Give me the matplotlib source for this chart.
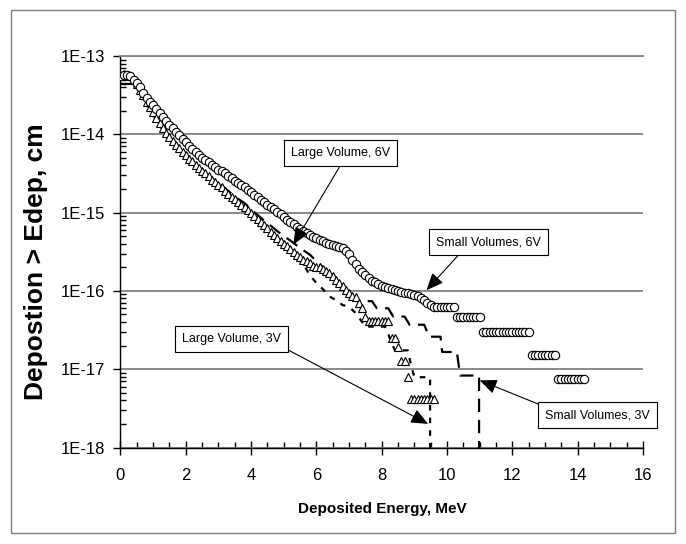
import numpy as np
import matplotlib
matplotlib.use("Agg")
import matplotlib.pyplot as plt
from matplotlib.patches import Rectangle
from matplotlib.ticker import FixedLocator, MultipleLocator, LogLocator, NullFormatter

plt.rcParams['font.family'] = ['Liberation Sans', 'DejaVu Sans']

# Small Volumes, 6V (circles) - sampled every 0.1 MeV
e_small6 = np.arange(143) * 0.1
small6 = [5.6e-14, 5.8e-14, 5.8e-14, 5.5e-14, 5.0e-14, 4.5e-14, 4.0e-14, 3.4e-14, 2.95e-14, 2.6e-14,
          2.35e-14, 2.1e-14, 1.86e-14, 1.66e-14, 1.48e-14, 1.32e-14, 1.2e-14, 1.07e-14, 9.8e-15, 8.7e-15,
          7.9e-15, 7.1e-15, 6.5e-15, 5.9e-15, 5.5e-15, 5.0e-15, 4.7e-15, 4.4e-15, 4.1e-15, 3.8e-15,
          3.55e-15, 3.4e-15, 3.16e-15, 2.95e-15, 2.75e-15, 2.57e-15, 2.4e-15, 2.24e-15, 2.1e-15, 1.95e-15,
          1.82e-15, 1.7e-15, 1.58e-15, 1.45e-15, 1.35e-15, 1.26e-15, 1.17e-15, 1.1e-15, 1.02e-15, 9.5e-16,
          8.9e-16, 8.1e-16, 7.6e-16, 7.1e-16, 6.6e-16, 6.2e-16, 5.9e-16, 5.5e-16, 5.1e-16, 4.9e-16,
          4.7e-16, 4.5e-16, 4.3e-16, 4.1e-16, 4.0e-16, 3.9e-16, 3.7e-16, 3.6e-16, 3.5e-16, 3.2e-16,
          2.95e-16, 2.5e-16, 2.2e-16, 1.9e-16, 1.74e-16, 1.58e-16, 1.45e-16, 1.35e-16, 1.29e-16, 1.23e-16,
          1.17e-16, 1.12e-16, 1.1e-16, 1.05e-16, 1.02e-16, 1.0e-16, 9.8e-17, 9.5e-17, 9.3e-17, 9.1e-17,
          8.9e-17, 8.5e-17, 8.1e-17, 7.6e-17, 7.1e-17, 6.6e-17, 6.2e-17, 6.2e-17, 6.2e-17, 6.2e-17,
          6.2e-17, 6.2e-17, 6.2e-17, 4.7e-17, 4.7e-17, 4.7e-17, 4.7e-17, 4.7e-17, 4.7e-17, 4.7e-17,
          4.7e-17, 3.0e-17, 3.0e-17, 3.0e-17, 3.0e-17, 3.0e-17, 3.0e-17, 3.0e-17, 3.0e-17, 3.0e-17,
          3.0e-17, 3.0e-17, 3.0e-17, 3.0e-17, 3.0e-17, 3.0e-17, 1.5e-17, 1.5e-17, 1.5e-17, 1.5e-17,
          1.5e-17, 1.5e-17, 1.5e-17, 1.5e-17, 7.4e-18, 7.4e-18, 7.4e-18, 7.4e-18, 7.4e-18, 7.4e-18,
          7.4e-18, 7.4e-18, 7.4e-18]

# Large Volume, 6V (triangles) - sampled every 0.1 MeV
e_large6 = np.arange(97) * 0.1
large6 = [5.8e-14, 5.9e-14, 5.8e-14, 5.5e-14, 5.0e-14, 4.4e-14, 3.7e-14, 3.16e-14, 2.6e-14, 2.24e-14,
          1.9e-14, 1.62e-14, 1.38e-14, 1.2e-14, 1.05e-14, 9.3e-15, 8.3e-15, 7.4e-15, 6.6e-15, 6.0e-15,
          5.4e-15, 4.9e-15, 4.5e-15, 4.1e-15, 3.7e-15, 3.4e-15, 3.16e-15, 2.9e-15, 2.6e-15, 2.45e-15,
          2.24e-15, 2.1e-15, 1.9e-15, 1.74e-15, 1.58e-15, 1.48e-15, 1.35e-15, 1.26e-15, 1.17e-15, 1.07e-15,
          1.0e-15, 9.1e-16, 8.3e-16, 7.6e-16, 6.9e-16, 6.3e-16, 5.6e-16, 5.2e-16, 4.8e-16, 4.4e-16,
          4.0e-16, 3.7e-16, 3.4e-16, 3.16e-16, 2.9e-16, 2.7e-16, 2.5e-16, 2.4e-16, 2.24e-16, 2.1e-16,
          2.0e-16, 2.0e-16, 1.9e-16, 1.8e-16, 1.7e-16, 1.55e-16, 1.38e-16, 1.26e-16, 1.15e-16, 1.02e-16,
          9.3e-17, 8.7e-17, 8.3e-17, 7.1e-17, 6.0e-17, 4.7e-17, 4.1e-17, 4.1e-17, 4.1e-17, 4.1e-17,
          4.1e-17, 4.1e-17, 4.1e-17, 2.5e-17, 2.5e-17, 1.9e-17, 1.26e-17, 1.26e-17, 7.9e-18, 4.2e-18,
          4.2e-18, 4.2e-18, 4.2e-18, 4.2e-18, 4.2e-18, 4.2e-18, 4.2e-18]

# Small Volumes, 3V (long dashes)
e_small3 = [0.0, 0.4, 0.6, 0.8, 1.0, 1.2, 1.4, 1.6, 1.8, 2.0, 2.2, 2.4, 2.6, 2.8, 3.0, 3.2, 3.4, 3.6,
            3.8, 4.0, 4.2, 4.4, 4.6, 4.8, 5.0, 5.2, 5.4, 5.6, 5.8, 6.0, 6.2, 6.4, 6.6, 6.8, 7.0, 7.2,
            7.3, 7.7, 7.85, 8.2, 8.35, 8.7, 8.85, 9.3, 9.45, 9.8, 9.85, 10.3, 10.4, 10.98, 10.98]
small3 = [4.4e-14, 4.4e-14, 3.5e-14, 2.6e-14, 1.9e-14, 1.38e-14, 1.05e-14, 8.3e-15, 6.6e-15, 5.4e-15,
          4.5e-15, 3.8e-15, 3.2e-15, 2.75e-15, 2.35e-15, 2.05e-15, 1.74e-15, 1.5e-15, 1.32e-15, 1.1e-15,
          9.3e-16, 7.9e-16, 6.8e-16, 5.8e-16, 5.0e-16, 4.4e-16, 3.8e-16, 3.3e-16, 2.9e-16, 2.4e-16,
          2.0e-16, 1.66e-16, 1.38e-16, 1.12e-16, 8.9e-17, 7.6e-17, 7.4e-17, 7.4e-17, 6.0e-17, 6.0e-17,
          4.7e-17, 4.7e-17, 3.7e-17, 3.7e-17, 2.6e-17, 2.6e-17, 1.66e-17, 1.66e-17, 8.3e-18, 8.3e-18,
          1e-20]

# Large Volume, 3V (short dashes)
e_large3 = [0.0, 0.4, 0.6, 0.8, 1.0, 1.2, 1.4, 1.6, 1.8, 2.0, 2.2, 2.4, 2.6, 2.8, 3.0, 3.2, 3.4, 3.6,
            3.8, 4.0, 4.2, 4.4, 4.6, 4.8, 5.0, 5.2, 5.4, 5.6, 5.8, 6.0, 6.2, 6.4, 6.6, 6.8, 7.0, 7.2,
            7.4, 7.5, 8.1, 8.2, 8.3, 8.4, 8.8, 8.9, 9.0, 9.48, 9.48]
large3 = [4.4e-14, 4.3e-14, 3.4e-14, 2.45e-14, 1.78e-14, 1.29e-14, 9.8e-15, 7.8e-15, 6.2e-15, 5.0e-15,
          4.2e-15, 3.5e-15, 2.95e-15, 2.45e-15, 2.1e-15, 1.78e-15, 1.5e-15, 1.29e-15, 1.1e-15, 9.3e-16,
          7.8e-16, 6.5e-16, 5.4e-16, 4.5e-16, 3.8e-16, 3.2e-16, 2.6e-16, 2.2e-16, 1.58e-16, 1.26e-16,
          1.05e-16, 8.5e-17, 7.6e-17, 6.6e-17, 6.3e-17, 5.2e-17, 4.0e-17, 3.5e-17, 3.5e-17, 2.8e-17,
          2.2e-17, 1.74e-17, 1.74e-17, 1.1e-17, 7.9e-18, 7.9e-18, 1e-20]

x_ticks = [0, 2, 4, 6, 8, 10, 12, 14, 16]
y_ticks = [1e-18, 1e-17, 1e-16, 1e-15, 1e-14, 1e-13]
y_ticklabels = ['1E-18', '1E-17', '1E-16', '1E-15', '1E-14', '1E-13']

# callouts: label, box centre, arrow tail, arrow tip
callouts = [
    ("Large Volume, 6V", (6.75, 5.75e-15), (6.70, 3.8e-15), (5.29, 3.9e-16)),
    ("Small Volumes, 6V", (11.26, 4.2e-16), (10.39, 3.0e-16), (9.37, 1.02e-16)),
    ("Large Volume, 3V", (3.41, 2.45e-17), (5.09, 1.8e-17), (9.42, 2.0e-18)),
    ("Small Volumes, 3V", (14.61, 2.6e-18), (12.93, 3.4e-18), (11.0, 7.2e-18)),
]

fig = plt.figure(figsize=(6.86, 5.44), dpi=100)
fig.patches.append(Rectangle((11 / 686, 1 - 533 / 544), 663.5 / 686, 523.5 / 544,
                             transform=fig.transFigure, fill=False, ec='#808080', lw=1))

ax = fig.add_axes([120.5 / 686, 1 - 447.5 / 544, 522.5 / 686, 391.5 / 544])
ax.set_yscale('log')

ax.plot(e_large3, large3, color='black', lw=1.6, dashes=(2.5, 3.2), zorder=2)
ax.plot(e_small3, small3, color='black', lw=1.6, dashes=(6, 3.5), zorder=2)
ax.plot(e_large6, large6, ls='none', marker='^', ms=6, mfc='white', mec='black', mew=0.8, zorder=3)
ax.plot(e_small6, small6, ls='none', marker='o', ms=6, mfc='white', mec='black', mew=0.8, zorder=4)

ax.set_xlim(0, 16)
ax.set_ylim(1e-18, 1e-13)

ax.xaxis.set_major_locator(FixedLocator(x_ticks))
ax.xaxis.set_minor_locator(MultipleLocator(0.5))
ax.yaxis.set_major_locator(FixedLocator(y_ticks))
ax.set_yticklabels(y_ticklabels)
ax.yaxis.set_minor_locator(LogLocator(base=10, subs=np.arange(2, 10)))
ax.yaxis.set_minor_formatter(NullFormatter())

ax.tick_params(axis='x', which='major', direction='inout', length=10, width=1, labelsize=12, pad=10)
ax.tick_params(axis='x', which='minor', direction='in', length=4, width=1)
ax.tick_params(axis='y', which='major', direction='out', length=5, width=1, labelsize=12, pad=6)
ax.tick_params(axis='y', which='minor', direction='in', length=4, width=1)

ax.yaxis.grid(True, which='major', color='#808080', lw=1.3)
ax.set_axisbelow(True)
ax.spines['right'].set_visible(False)
ax.spines['top'].set_color('#808080')
ax.spines['top'].set_linewidth(1.3)
ax.spines['left'].set_linewidth(1)
ax.spines['bottom'].set_linewidth(1)

for label, centre, tail, tip in callouts:
    ax.annotate('', xy=tip, xytext=tail,
                arrowprops=dict(arrowstyle='-|>,head_length=0.7,head_width=0.3',
                                mutation_scale=15, color='black', lw=0.8,
                                shrinkA=0, shrinkB=0), zorder=5)
    ax.text(centre[0], centre[1], label, ha='center', va='center', fontsize=9,
            zorder=6, bbox=dict(boxstyle='square,pad=0.55', fc='white', ec='black', lw=0.8))

fig.text(36 / 686, 1 - 262 / 544, 'Depostion > Edep, cm', rotation=90, ha='center', va='center',
         fontsize=19, fontweight='bold')
fig.text(382 / 686, 1 - 509 / 544, 'Deposited Energy, MeV', ha='center', va='center',
         fontsize=11, fontweight='bold')

fig.savefig('out.png', dpi=100)
